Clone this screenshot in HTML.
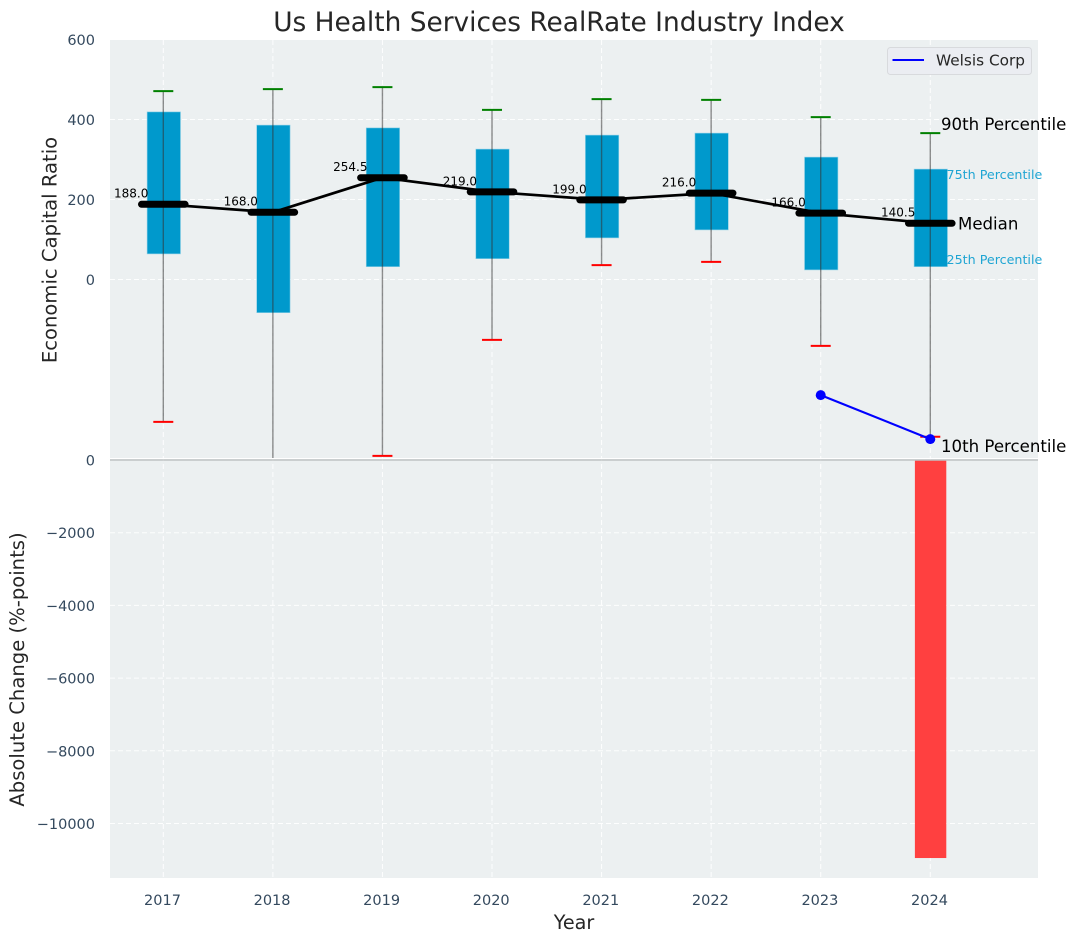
<!DOCTYPE html>
<html>
<head>
<meta charset="utf-8">
<title>Us Health Services RealRate Industry Index</title>
<style>
html,body{margin:0;padding:0;background:#fff;width:1076px;height:942px;overflow:hidden}
svg{display:block;font-family:"DejaVu Sans","Liberation Sans",sans-serif}
</style>
</head>
<body>
<svg id="chart" width="1076" height="942" viewBox="0 0 1076 942" xmlns="http://www.w3.org/2000/svg">
  <defs>
    <clipPath id="top-clip"><rect x="110" y="40" width="928" height="418"></rect></clipPath>
    <clipPath id="bottom-clip"><rect x="110" y="460" width="928" height="418"></rect></clipPath>
  </defs>
  <rect x="110" y="40" width="928" height="420" fill="#ecf0f1"></rect>
  <rect x="110" y="460" width="928" height="418" fill="#ecf0f1"></rect>
  <g id="grid"></g>
  <g id="bottom-marks" clip-path="url(#bottom-clip)"></g>
  <g id="top-marks" clip-path="url(#top-clip)"></g>
  <line x1="110" x2="1038" y1="458.5" y2="458.5" stroke="#ffffff" stroke-width="1"></line>
  <line x1="110" x2="1038" y1="460" y2="460" stroke="#bfc3c4" stroke-width="1.6"></line>
  <g id="overlay"></g>
  <g id="ticks" font-size="14.5" fill="#34495e"></g>

  <text x="559" y="31" text-anchor="middle" font-size="26.4" fill="#262626">Us Health Services RealRate Industry Index</text>
  <text transform="translate(56.7,250) rotate(-90)" text-anchor="middle" font-size="19.6" fill="#262626">Economic Capital Ratio</text>
  <text transform="translate(24,669.5) rotate(-90)" text-anchor="middle" font-size="19.6" fill="#262626">Absolute Change (%-points)</text>
  <text x="574" y="929" text-anchor="middle" font-size="19.2" fill="#262626">Year</text>

  <text x="941" y="130" font-size="16.6" fill="#000">90th Percentile</text>
  <text x="946.5" y="179" font-size="12.7" fill="#1fa5d3">75th Percentile</text>
  <text x="958" y="229.5" font-size="16.6" fill="#000">Median</text>
  <text x="946.5" y="264" font-size="12.7" fill="#1fa5d3">25th Percentile</text>
  <text x="941" y="452" font-size="16.6" fill="#000">10th Percentile</text>

  <g>
    <rect x="887.5" y="47.5" width="144" height="27" rx="3" fill="#ebedf2" stroke="#d8dadd" stroke-width="1"></rect>
    <line x1="892.5" x2="924" y1="60" y2="60" stroke="#0000ff" stroke-width="2"></line>
    <text x="936" y="65.5" font-size="15.3" fill="#262626">Welsis Corp</text>
  </g>
</svg>
<script>
const years = [2017, 2018, 2019, 2020, 2021, 2022, 2023, 2024];
const p90 = [471, 476, 481, 424, 451, 449, 406, 366];
const q3 = [419, 386, 379, 326, 361, 366, 306, 276];
const medians = [188.0, 168.0, 254.5, 219.0, 199.0, 216.0, 166.0, 140.5];
const q1 = [64, -83, 32, 52, 104, 124, 24, 32];
const p10 = [-356, -520, -441, -151, 36, 44, -166, -393];
const welsisYears = [2023, 2024];
const welsisValues = [-289, -399];
const changeYears = [2024];
const changeValues = [-10950];
const topTicks = [600, 400, 200, 0];
const bottomTicks = [0, -2000, -4000, -6000, -8000, -10000];

const NS = 'http://www.w3.org/2000/svg';
function x(year) { return 163.3 + (year - 2017) * 109.57; }
function yTop(v) { return 279.5 - v * 0.4; }
function yBottom(v) { return 460 - v * 0.03635; }
function make(parent, tag, attrs, text) {
  const el = document.createElementNS(NS, tag);
  for (const k in attrs) el.setAttribute(k, attrs[k]);
  if (text !== undefined) el.textContent = text;
  parent.appendChild(el);
  return el;
}
function fmt(v) { return (v < 0 ? '\u2212' : '') + Math.abs(v); }

const grid = document.getElementById('grid');
const ticksG = document.getElementById('ticks');
const topG = document.getElementById('top-marks');
const botG = document.getElementById('bottom-marks');
const overlay = document.getElementById('overlay');
const gridStyle = { stroke: '#ffffff', 'stroke-width': 1, 'stroke-dasharray': '5 3', 'stroke-opacity': 0.9 };

years.forEach(function (yr) {
  const gl = make(grid, 'line', Object.assign({ x1: x(yr), x2: x(yr), y1: 40, y2: 878 }, gridStyle));
  
  
  const t = make(ticksG, 'text', { x: x(yr) - 0.8, y: 905, 'text-anchor': 'middle' }, String(yr));
  
  
});
topTicks.forEach(function (v) {
  const gl = make(grid, 'line', Object.assign({ x1: 110, x2: 1038, y1: yTop(v), y2: yTop(v) }, gridStyle));
  
  
  const t = make(ticksG, 'text', { x: 95, y: yTop(v) + 5.5, 'text-anchor': 'end' }, fmt(v));
  
  
});
bottomTicks.forEach(function (v) {
  const gl = make(grid, 'line', Object.assign({ x1: 110, x2: 1038, y1: yBottom(v), y2: yBottom(v) }, gridStyle));
  
  
  const t = make(ticksG, 'text', { x: 95, y: yBottom(v) + 5.5, 'text-anchor': 'end' }, fmt(v));
  
  
});

changeYears.forEach(function (yr, i) {
  const b = make(botG, 'rect', { x: x(yr) - 15.4, width: 31.4, y: yBottom(0), height: yBottom(changeValues[i]) - yBottom(0), fill: '#ff4040' });
  
  
});

years.forEach(function (yr, i) {
  const box = make(topG, 'rect', { x: x(yr) - 16.2, width: 33.4, y: yTop(q3[i]), height: yTop(q1[i]) - yTop(q3[i]), fill: '#0099cc', stroke: '#8fd0e6', 'stroke-width': 0.6 });
  
  
  const w = make(topG, 'line', { x1: x(yr), x2: x(yr), y1: yTop(p90[i]), y2: yTop(p10[i]), stroke: '#333333', 'stroke-opacity': 0.55, 'stroke-width': 1.4 });
  
  
  const hi = make(topG, 'line', { x1: x(yr) - 10, x2: x(yr) + 10, y1: yTop(p90[i]), y2: yTop(p90[i]), stroke: '#008000', 'stroke-width': 2 });
  
  
  const lo = make(topG, 'line', { x1: x(yr) - 10, x2: x(yr) + 10, y1: yTop(p10[i]), y2: yTop(p10[i]), stroke: '#ff0000', 'stroke-width': 2 });
  
  
});

const medianPath = years.map(function (yr, i) { return x(yr) + ',' + yTop(medians[i]); }).join(' ');
const medianLine = make(topG, 'polyline', { points: medianPath, fill: 'none', stroke: '#000', 'stroke-width': 2.7, 'stroke-linejoin': 'round' });



years.forEach(function (yr, i) {
  const m = make(topG, 'line', { x1: x(yr) - 21.8, x2: x(yr) + 21.8, y1: yTop(medians[i]), y2: yTop(medians[i]), stroke: '#000', 'stroke-width': 7, 'stroke-linecap': 'round' });
  
  
  const t = make(overlay, 'text', { x: x(yr) - 49.3, y: yTop(medians[i]) - 6.6, 'font-size': 12, fill: '#000' }, medians[i].toFixed(1));
  
  
});

const welsisLine = make(topG, 'polyline', { points: welsisYears.map(function (yr, i) { return x(yr) + ',' + yTop(welsisValues[i]); }).join(' '), fill: 'none', stroke: '#0000ff', 'stroke-width': 2.1 });


welsisYears.forEach(function (yr, i) {
  const c = make(topG, 'circle', { cx: x(yr), cy: yTop(welsisValues[i]), r: 5, fill: '#0000ff' });
  
  
});
</script>
</body>
</html>
